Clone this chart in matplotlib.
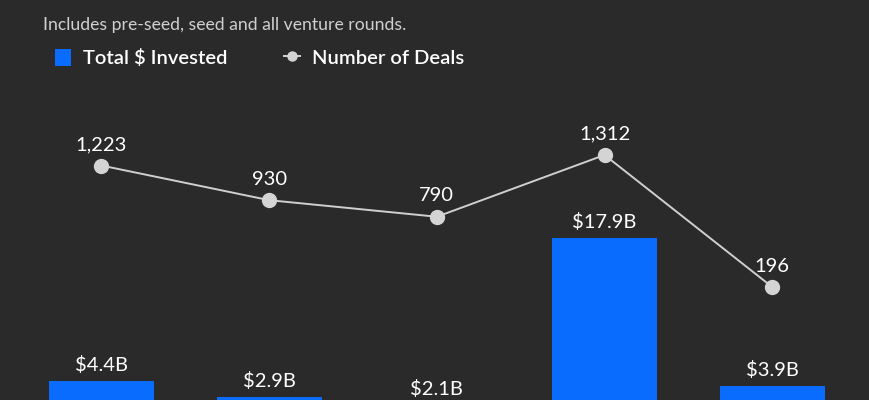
import matplotlib
matplotlib.use("Agg")
import matplotlib.pyplot as plt
from matplotlib.lines import Line2D
from matplotlib.patches import Patch

# values (x categories are cropped out of the picture)
invested = [4.4, 2.9, 2.1, 17.9, 3.9]          # $B
invested_labels = ["$4.4B", "$2.9B", "$2.1B", "$17.9B", "$3.9B"]
deals = [1223, 930, 790, 1312, 196]
deal_labels = ["1,223", "930", "790", "1,312", "196"]

BG = "#2a2a2a"
BLUE = "#0a6cff"
DOT = "#d4d4d4"
FONT = ["Lato", "DejaVu Sans"]

plt.rcParams["font.family"] = FONT
fig = plt.figure(figsize=(8.7, 4.0), dpi=100, facecolor=BG)
ax = fig.add_axes([0, 0, 1, 1])
ax.set_facecolor(BG)
ax2 = ax.twinx()

x = list(range(len(invested)))
ax.bar(x, invested, width=0.626, color=BLUE, zorder=2)
for xi, v, lab in zip(x, invested, invested_labels):
    ax.annotate(lab, (xi, v), xytext=(0, 5), textcoords="offset points",
                ha="center", va="bottom", color="white", fontsize=14.5, annotation_clip=False)
# the 2.1B bar sits below the crop, its label still shows
ax.set_xlim(-0.605, 4.583)
ax.set_ylim(2.6, 40.3)

ax2.plot(x, deals, color="#cfcfcf", lw=1.4, marker="o", ms=10, mfc=DOT, mec=DOT, zorder=3)
for xi, v, lab in zip(x, deals, deal_labels):
    ax2.annotate(lab, (xi, v), xytext=(0, 9), textcoords="offset points",
                 ha="center", va="bottom", color="white", fontsize=14.5)
ax2.set_ylim(-759, 2622)

for a in (ax, ax2):
    a.set_xticks([]); a.set_yticks([])
    for s in a.spines.values():
        s.set_visible(False)

fig.text(0.049, 0.937, "Includes pre-seed, seed and all venture rounds.",
         color="#d0d0d0", fontsize=12.7, va="center", ha="left")
handles = [Patch(facecolor=BLUE, edgecolor="none", label="Total $ Invested"),
           Line2D([0], [0], color=DOT, lw=1.4, marker="o", ms=6.5, mfc=DOT, mec=DOT,
                  label="Number of Deals")]
leg = fig.legend(handles=handles, loc="center left", bbox_to_anchor=(0.063, 0.855), ncol=2,
                 frameon=False, labelcolor="white", handlelength=0.8,
                 handleheight=0.9, columnspacing=2.8, handletextpad=0.6, borderpad=0,
                 borderaxespad=0, prop={"family": FONT, "weight": "semibold", "size": 14.5})

fig.savefig("out.png", dpi=100, facecolor=BG)
